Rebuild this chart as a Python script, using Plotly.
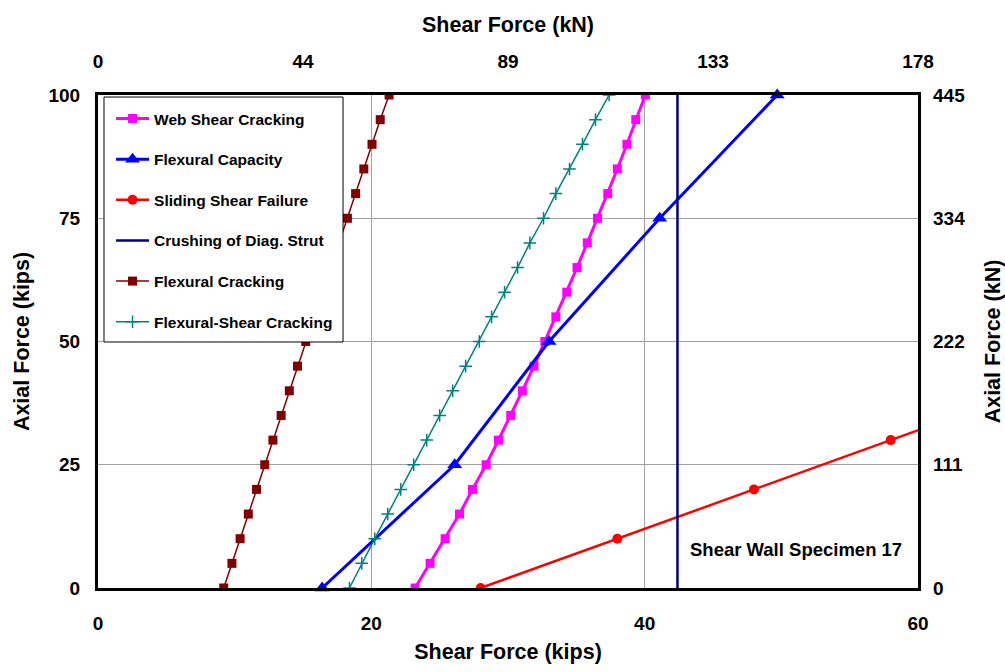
import plotly.graph_objects as go

# Axial load levels (kips) at which the cracking curves were evaluated
axial_levels = [0, 5, 10, 15, 20, 25, 30, 35, 40, 45, 50,
                55, 60, 65, 70, 75, 80, 85, 90, 95, 100]

web_shear_cracking = [23.2, 24.3, 25.4, 26.45, 27.4, 28.4, 29.3, 30.2, 31.05, 31.9, 32.7,
                      33.5, 34.3, 35.05, 35.8, 36.55, 37.3, 38.0, 38.7, 39.35, 40.05]
flexural_cracking = [9.2, 9.8, 10.4, 11.0, 11.6, 12.2, 12.8, 13.4, 14.0, 14.6, 15.2,
                     15.8, 16.4, 17.0, 17.6, 18.25, 18.85, 19.45, 20.05, 20.65, 21.3]
flexural_shear_cracking = [18.4, 19.3, 20.25, 21.2, 22.15, 23.1, 24.05, 25.0, 25.95, 26.9, 27.9,
                           28.8, 29.75, 30.7, 31.6, 32.6, 33.5, 34.5, 35.45, 36.4, 37.4]

flex_cap_axial = [0, 25, 50, 75, 100]
flex_cap_shear = [16.4, 26.1, 33.0, 41.1, 49.7]

sliding_axial = [0, 10, 20, 30, 40]
sliding_shear = [28.0, 38.0, 48.0, 58.0, 68.0]

strut_axial = [0, 100]
strut_shear = [42.4, 42.4]

# Secondary SI axes
kn_top_ticks = [0, 44.5, 89, 133.5, 178]
kn_top_labels = ["0", "44", "89", "133", "178"]
kn_right_ticks = [0, 111.25, 222.5, 333.75, 445]
kn_right_labels = ["0", "111", "222", "334", "445"]

FONT = "Liberation Sans, Arial, sans-serif"

fig = go.Figure()

fig.add_trace(go.Scatter(
    x=web_shear_cracking, y=axial_levels, name="Web Shear Cracking",
    mode="lines+markers", line=dict(color="#FF00FF", width=3),
    marker=dict(symbol="square", size=9, color="#FF00FF"),
    legendgroup="a", cliponaxis=True))
fig.add_trace(go.Scatter(
    x=flex_cap_shear, y=flex_cap_axial, name="Flexural Capacity",
    mode="lines+markers", line=dict(color="#0000FF", width=3),
    marker=dict(symbol="triangle-up", size=13, color="#0000FF"),
    legendgroup="b", cliponaxis=False))
fig.add_trace(go.Scatter(
    x=sliding_shear, y=sliding_axial, name="Sliding Shear Failure",
    mode="lines+markers", line=dict(color="#FF0000", width=2.5),
    marker=dict(symbol="circle", size=10, color="#FF0000"),
    legendgroup="c", cliponaxis=True))
fig.add_trace(go.Scatter(
    x=strut_shear, y=strut_axial, name="Crushing of Diag. Strut",
    mode="lines", line=dict(color="#000080", width=2.5),
    legendgroup="d"))
fig.add_trace(go.Scatter(
    x=flexural_cracking, y=axial_levels, name="Flexural Cracking",
    mode="lines+markers", line=dict(color="#800000", width=1.5),
    marker=dict(symbol="square", size=9, color="#800000"),
    legendgroup="e"))
fig.add_trace(go.Scatter(
    x=flexural_shear_cracking, y=axial_levels, name="Flexural-Shear Cracking",
    mode="lines+markers", line=dict(color="#008080", width=1.5),
    marker=dict(symbol="cross-thin", size=9, line=dict(color="#008080", width=1.5)),
    legendgroup="f"))

# Invisible trace to bind the kN axes
fig.add_trace(go.Scatter(x=[0, 178], y=[0, 445], xaxis="x2", yaxis="y2",
                         mode="markers", marker=dict(opacity=0),
                         showlegend=False, hoverinfo="skip"))

tickfont = dict(family=FONT, size=19, color="black", weight="bold")
titlefont = dict(family=FONT, size=21.5, color="black", weight="bold")

fig.update_layout(
    width=1005, height=672,
    margin=dict(l=98, r=87, t=95, b=84, autoexpand=False),
    paper_bgcolor="white", plot_bgcolor="white",
    showlegend=True,
    legend=dict(x=0.0159, y=0.986, xanchor="left", yanchor="top",
                bgcolor="rgba(0,0,0,0)", borderwidth=0,
                font=dict(family=FONT, size=15.5, color="black", weight="bold"),
                tracegroupgap=17.5, itemwidth=33),
    # legend frame, drawn over the traces
    shapes=[dict(type="rect", xref="paper", yref="paper",
                 x0=0.0073, x1=0.2988, y0=0.499, y1=0.9959,
                 fillcolor="white", line=dict(color="black", width=1),
                 layer="above")],
    xaxis=dict(range=[0, 60], tickvals=[0, 20, 40, 60], showgrid=True,
               gridcolor="#A0A0A0", gridwidth=1, zeroline=False,
               showline=True, linecolor="black", linewidth=3, mirror=True,
               tickfont=tickfont, ticks="", ticklabelstandoff=16, automargin=False,
               title=dict(text="Shear Force (kips)", font=titlefont, standoff=12)),
    yaxis=dict(range=[0, 100], tickvals=[0, 25, 50, 75, 100], showgrid=True,
               gridcolor="#A0A0A0", gridwidth=1, zeroline=False,
               showline=True, linecolor="black", linewidth=3, mirror=True,
               tickfont=tickfont, ticks="", ticklabelstandoff=11, automargin=False,
               title=dict(text="Axial Force (kips)", font=titlefont, standoff=13)),
    xaxis2=dict(range=[0, 178], overlaying="x", side="top",
                tickvals=kn_top_ticks, ticktext=kn_top_labels,
                showgrid=False, zeroline=False, ticks="", tickfont=tickfont,
                ticklabelstandoff=22, automargin=False,
                title=dict(text="Shear Force (kN)", font=titlefont, standoff=12)),
    yaxis2=dict(range=[0, 445], overlaying="y", side="right",
                tickvals=kn_right_ticks, ticktext=kn_right_labels,
                showgrid=False, zeroline=False, ticks="", tickfont=tickfont,
                ticklabelstandoff=14, automargin=False,
                title=dict(text="Axial Force (kN)", font=titlefont, standoff=20)),
    annotations=[dict(x=43.2, y=7.9, xref="x", yref="y", xanchor="left",
                      yanchor="middle", showarrow=False,
                      text="Shear Wall Specimen 17",
                      font=dict(family=FONT, size=18.5, color="black", weight="bold"))],
)

fig.write_html("out.html")
